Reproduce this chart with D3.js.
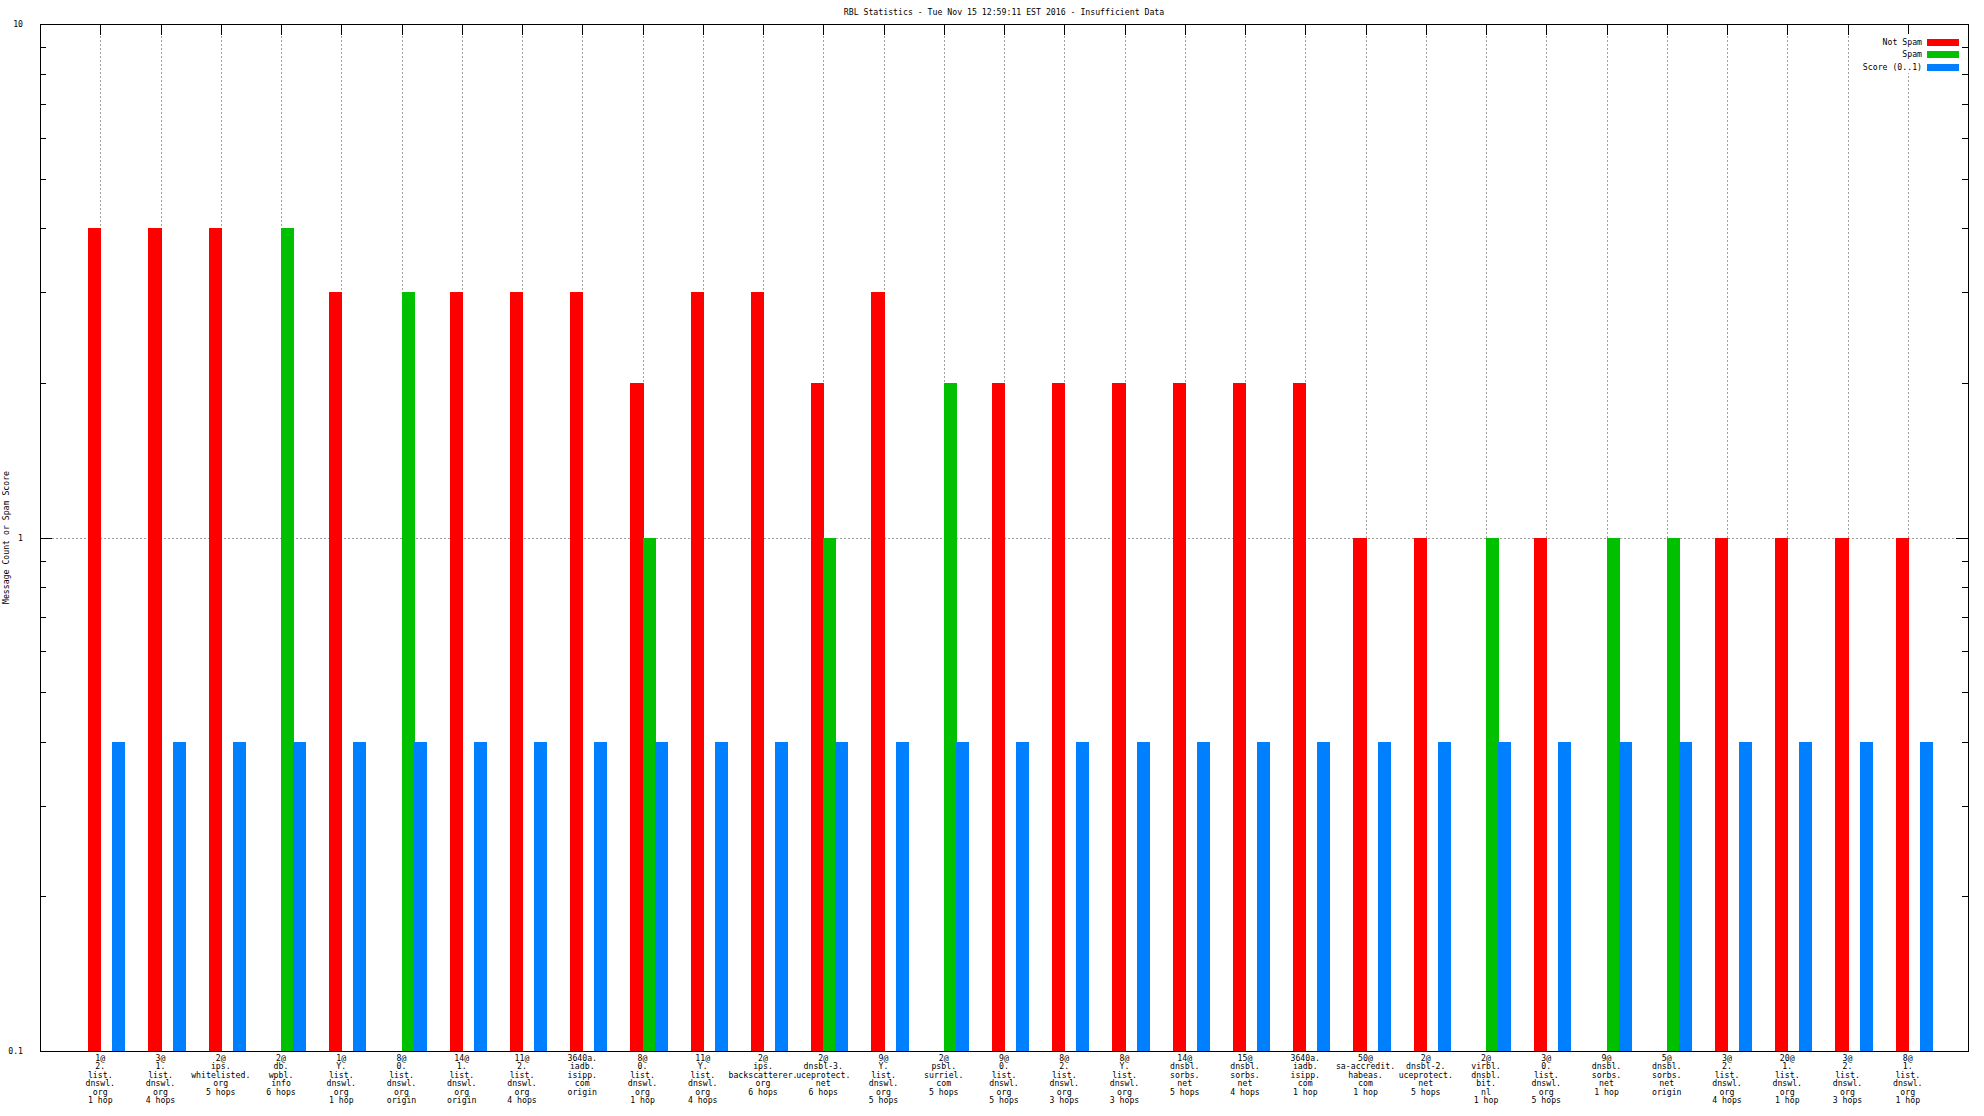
<!DOCTYPE html>
<html>
<head>
<meta charset="utf-8">
<script src="https://cdn.jsdelivr.net/npm/d3@7"></script>
<style>
  html, body { margin: 0; padding: 0; background: #fff; }
  svg { display: block; }
  text { font-family: "DejaVu Sans Mono", "Liberation Mono", monospace; font-size: 8.2px; fill: #000; }
</style>
</head>
<body>
<svg id="chart" width="1984" height="1116"></svg>
<script>
// ---- data ----
const categories = [
  "1@|2.|list.|dnswl.|org|1 hop",
  "3@|1.|list.|dnswl.|org|4 hops",
  "2@|ips.|whitelisted.|org|5 hops",
  "2@|db.|wpbl.|info|6 hops",
  "1@|Y.|list.|dnswl.|org|1 hop",
  "8@|0.|list.|dnswl.|org|origin",
  "14@|1.|list.|dnswl.|org|origin",
  "11@|2.|list.|dnswl.|org|4 hops",
  "3640a.|iadb.|isipp.|com|origin",
  "8@|0.|list.|dnswl.|org|1 hop",
  "11@|Y.|list.|dnswl.|org|4 hops",
  "2@|ips.|backscatterer.|org|6 hops",
  "2@|dnsbl-3.|uceprotect.|net|6 hops",
  "9@|Y.|list.|dnswl.|org|5 hops",
  "2@|psbl.|surriel.|com|5 hops",
  "9@|0.|list.|dnswl.|org|5 hops",
  "8@|2.|list.|dnswl.|org|3 hops",
  "8@|Y.|list.|dnswl.|org|3 hops",
  "14@|dnsbl.|sorbs.|net|5 hops",
  "15@|dnsbl.|sorbs.|net|4 hops",
  "3640a.|iadb.|isipp.|com|1 hop",
  "50@|sa-accredit.|habeas.|com|1 hop",
  "2@|dnsbl-2.|uceprotect.|net|5 hops",
  "2@|virbl.|dnsbl.|bit.|nl|1 hop",
  "3@|0.|list.|dnswl.|org|5 hops",
  "9@|dnsbl.|sorbs.|net|1 hop",
  "5@|dnsbl.|sorbs.|net|origin",
  "3@|2.|list.|dnswl.|org|4 hops",
  "20@|1.|list.|dnswl.|org|1 hop",
  "3@|2.|list.|dnswl.|org|3 hops",
  "8@|1.|list.|dnswl.|org|1 hop"
];
const notSpam = [4,4,4,0,3,0,3,3,3,2,3,3,2,3,0,2,2,2,2,2,2,1,1,0,1,0,0,1,1,1,1];
const spam    = [0,0,0,4,0,3,0,0,0,1,0,0,1,0,2,0,0,0,0,0,0,0,0,1,0,1,1,0,0,0,0];
const score   = [0.4,0.4,0.4,0.4,0.4,0.4,0.4,0.4,0.4,0.4,0.4,0.4,0.4,0.4,0.4,0.4,0.4,0.4,0.4,0.4,0.4,0.4,0.4,0.4,0.4,0.4,0.4,0.4,0.4,0.4,0.4];
const seriesNames = ["Not Spam", "Spam", "Score (0..1)"];
const seriesColors = ["#ff0000", "#00c000", "#0080ff"];
const yTickLabels = [0.1, 1, 10];
const yMinorTicks = [0.2,0.3,0.4,0.5,0.6,0.7,0.8,0.9,2,3,4,5,6,7,8,9];
const titleText = "RBL Statistics - Tue Nov 15 12:59:11 EST 2016 - Insufficient Data";
const yLabelText = "Message Count or Spam Score";

// ---- layout ----
const L = 40, T = 24, R = 1968, B = 1051;
const svg = d3.select("#chart");
svg.append("rect").attr("width", 1984).attr("height", 1116).attr("fill", "#fff");

const x = d3.scaleLinear().domain([-1, categories.length]).range([L, R]);
const y = d3.scaleLog().domain([0.1, 10]).range([B, T]);

const crisp = v => Math.round(v) + 0.5;

// grid
const grid = svg.append("g").attr("stroke", "#a0a0a0").attr("stroke-width", 1)
  .attr("stroke-dasharray", "2,2").attr("shape-rendering", "crispEdges");
categories.forEach((c, i) => {
  grid.append("line").attr("x1", crisp(x(i))).attr("x2", crisp(x(i))).attr("y1", T).attr("y2", B);
});
grid.append("line").attr("x1", L).attr("x2", R).attr("y1", crisp(y(1))).attr("y2", crisp(y(1)));

// axes with D3 axis generators
const axLeft = d3.axisLeft(y).tickValues(yTickLabels).tickFormat(d => d3.format("~g")(d)).tickSize(-12).tickPadding(17);
const axRight = d3.axisRight(y).tickValues(yTickLabels).tickFormat("").tickSize(-12);
const axLeftMinor = d3.axisLeft(y).tickValues(yMinorTicks).tickFormat("").tickSize(-6);
const axRightMinor = d3.axisRight(y).tickValues(yMinorTicks).tickFormat("").tickSize(-6);
const axTop = d3.axisTop(x).tickValues(d3.range(categories.length)).tickFormat("").tickSize(-11);
const axBottom = d3.axisBottom(x).tickValues(d3.range(categories.length)).tickFormat("").tickSize(-11);

function styleAxis(g) {
  g.select(".domain").remove();
  g.selectAll(".tick line").attr("stroke", "#000").attr("shape-rendering", "crispEdges");
  g.selectAll("text").attr("font-family", null).attr("font-size", null);
}
svg.append("g").attr("transform", `translate(${L},0)`).call(axLeft).call(styleAxis);
svg.append("g").attr("transform", `translate(${R},0)`).call(axRight).call(styleAxis);
svg.append("g").attr("transform", `translate(${L},0)`).call(axLeftMinor).call(styleAxis);
svg.append("g").attr("transform", `translate(${R},0)`).call(axRightMinor).call(styleAxis);
svg.append("g").attr("transform", `translate(0,${T})`).call(axTop).call(styleAxis);
svg.append("g").attr("transform", `translate(0,${B})`).call(axBottom).call(styleAxis);

// bars (clustered: Not Spam, Spam, Score)
const series = [notSpam, spam, score];
const barG = svg.append("g").attr("shape-rendering", "crispEdges");
series.forEach((vals, j) => {
  const recs = vals.map((v, i) => ({ v, i })).filter(d => d.v > 0);
  barG.append("g").selectAll("rect").data(recs).join("rect")
    .attr("x", d => Math.round(x(d.i - 0.2 + 0.2 * j)))
    .attr("width", d => Math.round(x(d.i + 0.2 * j)) + 1 - Math.round(x(d.i - 0.2 + 0.2 * j)))
    .attr("y", d => Math.round(y(d.v)))
    .attr("height", d => Math.round(y(0.1)) - Math.round(y(d.v)))
    .attr("fill", seriesColors[j]);
});

// border
svg.append("rect").attr("x", L + 0.5).attr("y", T + 0.5).attr("width", R - L).attr("height", B - T)
  .attr("fill", "none").attr("stroke", "#000").attr("stroke-width", 1).attr("shape-rendering", "crispEdges");

// x category labels
const lab = svg.append("g");
categories.forEach((c, i) => {
  const t = lab.append("text").attr("text-anchor", "middle").attr("x", x(i)).attr("y", 1061);
  c.split("|").forEach((line, k) => {
    t.append("tspan").attr("x", x(i)).attr("dy", k === 0 ? 0 : 8.4).text(line);
  });
});

// title
svg.append("text").attr("x", (L + R) / 2).attr("y", 15).attr("text-anchor", "middle").text(titleText);

// y label
svg.append("text").attr("transform", `translate(9,${(T + B) / 2}) rotate(-90)`).attr("text-anchor", "middle").text(yLabelText);

// legend
const leg = svg.append("g");
leg.append("rect").attr("x", 1856).attr("y", 34).attr("width", 104).attr("height", 39).attr("fill", "#fff");
seriesNames.forEach((n, j) => {
  const cy = 41.5 + j * 12.7;
  leg.append("text").attr("x", 1922).attr("y", cy + 3).attr("text-anchor", "end").text(n);
  leg.append("rect").attr("x", 1927).attr("y", Math.round(cy - 3)).attr("width", 32).attr("height", 7).attr("fill", seriesColors[j]);
});
</script>
</body>
</html>
